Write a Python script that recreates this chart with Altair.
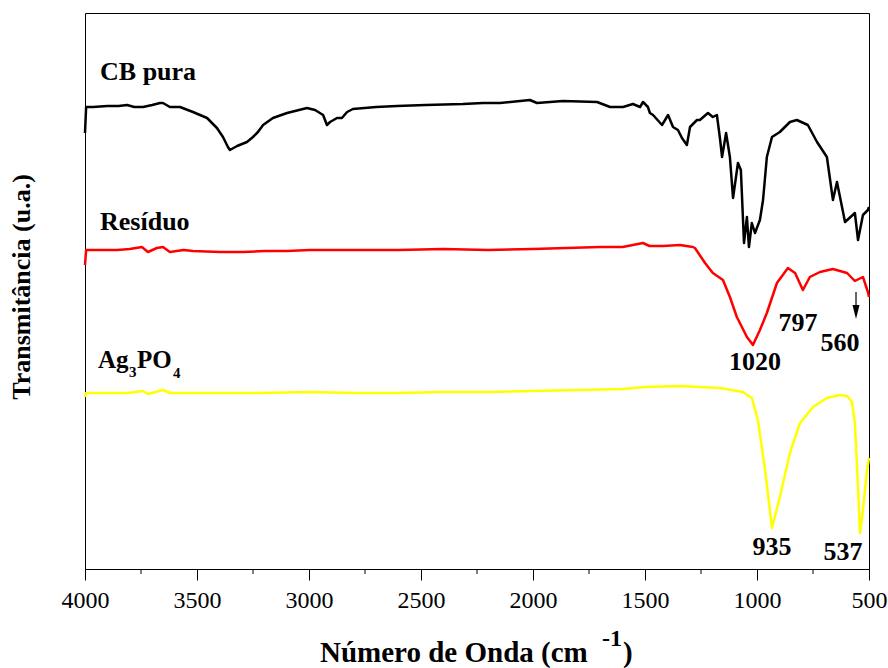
import altair as alt
import pandas as pd

# FTIR spectra: (wavenumber cm-1, transmittance in arbitrary units, stacked offsets)
cb_pura = [
    (4000, 436), (3995, 462), (3964, 462), (3900, 463), (3850, 463), (3812, 464),
    (3780, 462), (3741, 462), (3700, 464), (3665, 466), (3652, 466), (3621, 462),
    (3576, 462), (3518, 457), (3455, 451), (3411, 441), (3384, 432), (3362, 422),
    (3353, 419), (3321, 423), (3277, 427), (3250, 432), (3228, 437), (3205, 444),
    (3161, 451), (3098, 456), (3009, 461), (2973, 459), (2937, 454), (2920, 444),
    (2906, 447), (2875, 451), (2853, 451), (2830, 457), (2804, 460), (2700, 462),
    (2607, 463), (2480, 464), (2313, 465), (2223, 466), (2147, 466), (2014, 469),
    (1982, 466), (1866, 468), (1714, 467), (1656, 462), (1598, 462), (1554, 465),
    (1522, 462), (1509, 467), (1487, 462), (1478, 456), (1464, 454), (1424, 444),
    (1397, 454), (1375, 442), (1353, 439), (1335, 431), (1313, 424), (1299, 442),
    (1268, 449), (1255, 449), (1219, 456), (1197, 452), (1179, 454), (1165, 430),
    (1156, 412), (1138, 436), (1121, 412), (1107, 371), (1085, 406), (1072, 399),
    (1058, 326), (1045, 352), (1036, 322), (1023, 346), (1009, 336), (987, 349),
    (973, 369), (956, 412), (933, 432), (898, 437), (853, 447), (822, 449),
    (773, 444), (732, 427), (688, 412), (661, 369), (643, 387), (607, 347),
    (563, 356), (549, 329), (527, 354), (505, 359), (500, 362),
]

residuo = [
    (4000, 304), (3995, 319), (3991, 319), (3857, 319), (3800, 320), (3746, 322),
    (3719, 317), (3679, 321), (3652, 322), (3621, 317), (3560, 319), (3518, 318),
    (3397, 317), (3295, 317), (3200, 318), (3098, 318), (2996, 319), (2800, 319),
    (2600, 319), (2400, 320), (2200, 319), (2000, 320), (1850, 321), (1700, 322),
    (1600, 322), (1509, 326), (1480, 323), (1420, 323), (1344, 324), (1286, 322),
    (1277, 321), (1232, 306), (1197, 296), (1152, 289), (1121, 272), (1090, 252),
    (1045, 232), (1018, 224), (987, 239), (956, 256), (911, 286), (862, 301),
    (830, 296), (795, 279), (764, 292), (719, 297), (661, 300), (598, 296),
    (563, 288), (527, 292), (505, 277), (500, 272),
]

ag3po4 = [
    (4000, 172), (3995, 176), (3964, 176), (3812, 176), (3741, 178), (3719, 175),
    (3652, 179), (3621, 176), (3518, 176), (3366, 176), (3219, 176), (2996, 177),
    (2800, 176), (2600, 176), (2400, 177), (2200, 177), (2000, 178), (1800, 179),
    (1600, 180), (1500, 182), (1344, 183), (1165, 181), (1063, 177), (1023, 171),
    (996, 149), (964, 99), (933, 41), (898, 72), (853, 116), (808, 146),
    (750, 162), (688, 171), (630, 174), (598, 173), (576, 167), (563, 146),
    (549, 82), (540, 36), (527, 59), (509, 99), (500, 111),
]

series_names = ["CB pura", "Resíduo", "Ag3PO4"]
series_colors = ["#000000", "#ff0000", "#ffff00"]

# Axis ticks: labelled every 500, minor marks halfway between
major_ticks = [4000, 3500, 3000, 2500, 2000, 1500, 1000, 500]
minor_ticks = [3750, 3250, 2750, 2250, 1750, 1250, 750]

# Band labels: text, wavenumber position, transmittance position
band_labels = ["1020", "797", "560", "935", "537"]
band_wn = [1009, 817, 630, 933, 616]
band_t = [207, 246, 226, 22, 17]

# Series names written inside the plot (text, wavenumber, transmittance, size)
name_text = ["CB pura", "Resíduo", "Ag", "PO", "3", "4"]
name_wn = [3933, 3933, 3942, 3768, 3804, 3607]
name_t = [489, 339, 201, 201, 192, 191]
name_size = [26, 26, 25, 25, 15, 15]

# Arrow pointing at the 560 band
arrow_wn = 558
arrow_top = 277
arrow_tip = 250

FONT = "Liberation Serif"

rows = []
for name, pts in zip(series_names, [cb_pura, residuo, ag3po4]):
    for i, (wn, t) in enumerate(pts):
        rows.append({"serie": name, "wn": wn, "t": t, "ordem": i})
spectra = pd.DataFrame(rows)

x_scale = alt.Scale(domain=[500, 4000], reverse=True, nice=False, zero=False)
y_scale = alt.Scale(domain=[0, 556], nice=False, zero=False)

x_axis = alt.Axis(
    values=major_ticks,
    format="d",
    tickSize=11,
    labelPadding=8,
    labelFont=FONT,
    labelFontSize=24,
    labelColor="#000000",
    labelFlush=False,
    labelOverlap=False,
    tickColor="#000000",
    domainColor="#000000",
    grid=False,
    title=None,
)

X = alt.X("wn:Q", scale=x_scale, axis=x_axis)
Y = alt.Y("t:Q", scale=y_scale, axis=None)

lines = alt.Chart(spectra).mark_line(strokeWidth=2.5, strokeJoin="round").encode(
    x=X,
    y=Y,
    color=alt.Color("serie:N", scale=alt.Scale(domain=series_names, range=series_colors), legend=None),
    order=alt.Order("ordem:Q"),
)

minor = alt.Chart(pd.DataFrame({"wn": minor_ticks})).mark_rule(color="#000000", strokeWidth=1).encode(
    x=X, y=alt.value(556), y2=alt.value(561)
)

bands = alt.Chart(pd.DataFrame({"label": band_labels, "wn": band_wn, "t": band_t})).mark_text(
    font=FONT, fontSize=26, fontWeight="bold", color="#000000", align="center", baseline="middle"
).encode(x=X, y=Y, text="label:N")

names = alt.Chart(pd.DataFrame({"label": name_text, "wn": name_wn, "t": name_t, "size": name_size})).mark_text(
    font=FONT, fontWeight="bold", color="#000000", align="left", baseline="alphabetic"
).encode(
    x=X,
    y=Y,
    text="label:N",
    size=alt.Size("size:Q", scale=None, legend=None),
)

arrow_df = pd.DataFrame({"wn": [arrow_wn], "t1": [arrow_top], "t2": [arrow_tip + 4], "tip": [arrow_tip + 7]})
arrow_shaft = alt.Chart(arrow_df).mark_rule(color="#000000", strokeWidth=1.2).encode(
    x=X, y=alt.Y("t1:Q", scale=y_scale, axis=None), y2="t2:Q"
)
arrow_head = alt.Chart(arrow_df).mark_point(
    shape="M-0.5,-1L0.5,-1L0,1Z", filled=True, color="#000000", opacity=1, size=196
).encode(x=X, y=alt.Y("tip:Q", scale=y_scale, axis=None))

# Axis titles (drawn as text so the unit can carry a superscript)
title_df = pd.DataFrame({"a": [0]})
x_title = alt.Chart(title_df).mark_text(
    text="Número de Onda (cm", font=FONT, fontSize=29, fontWeight="bold", align="left",
    baseline="alphabetic", color="#000000"
).encode(x=alt.value(235), y=alt.value(649))
x_title_sup = alt.Chart(title_df).mark_text(
    text="-1", font=FONT, fontSize=24, fontWeight="bold", align="left",
    baseline="alphabetic", color="#000000"
).encode(x=alt.value(517), y=alt.value(633))
x_title_end = alt.Chart(title_df).mark_text(
    text=")", font=FONT, fontSize=29, fontWeight="bold", align="left",
    baseline="alphabetic", color="#000000"
).encode(x=alt.value(538), y=alt.value(649))
y_title = alt.Chart(title_df).mark_text(
    text="Transmitância (u.a.)", font=FONT, fontSize=26, fontWeight="bold", align="center",
    baseline="middle", angle=270, color="#000000"
).encode(x=alt.value(-63), y=alt.value(274))

chart = alt.layer(
    lines, minor, bands, names, arrow_shaft, arrow_head, x_title, x_title_sup, x_title_end, y_title
).properties(
    width=784,
    height=556,
    autosize="none",
    padding={"left": 85, "top": 13, "right": 19, "bottom": 99},
    background="#ffffff",
).configure_view(
    stroke="#000000", strokeWidth=1
).configure_axis(
    labelFont=FONT, labelFontSize=24, labelColor="#000000"
)

chart.save("out.html", embed_options={"renderer": "svg", "actions": False})
